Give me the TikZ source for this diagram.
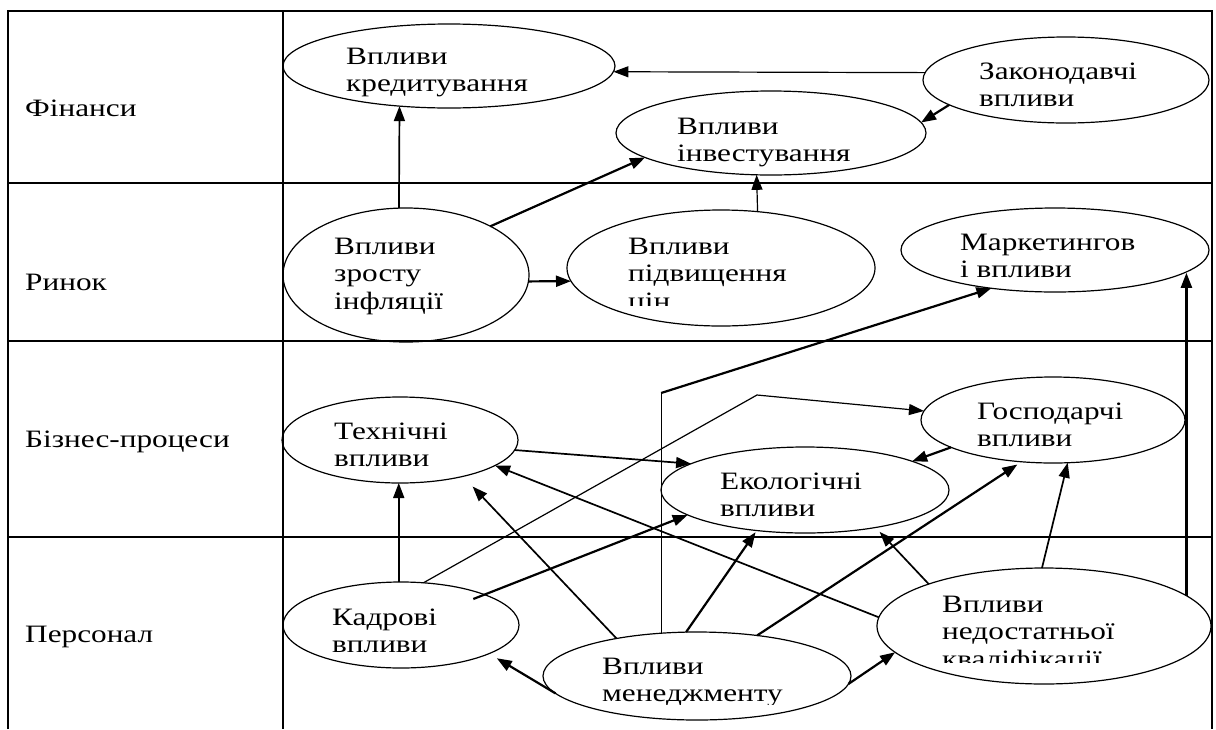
\documentclass[tikz,border=0pt]{standalone}
\usepackage{fontspec}
\setmainfont{Liberation Serif}[FakeStretch=1.25]
\usetikzlibrary{shapes.geometric,arrows.meta}
\begin{document}
\begin{tikzpicture}[x=1pt,y=1pt,
  frame/.style={line width=1.2pt},
  ell/.style={draw, ellipse, line width=1.2pt, inner sep=0pt, outer sep=0pt},
  txt/.style={font=\fontsize{25}{27.5}\selectfont, align=left, inner sep=0pt, anchor=base west},
  lbl/.style={font=\fontsize{25}{27.5}\selectfont, inner sep=0pt, anchor=base west},
  tip/.style={-{Triangle[length=15pt,width=11pt]}},
  thick arr/.style={tip, line width=2.2pt},
  mid arr/.style={tip, line width=1.7pt},
  thin arr/.style={tip, line width=1.2pt}]
\useasboundingbox (0,0) rectangle (1216,-729);
% table frame
\draw[frame] (8,-729) -- (8,-11) -- (1212,-11) -- (1212,-729);
\draw[frame] (283,-11) -- (283,-729);
\draw[frame] (8,-183) -- (1212,-183);
\draw[frame] (8,-341) -- (1212,-341);
\draw[frame] (8,-537) -- (1212,-537);
% row labels
\node[lbl] (rFin) at (25,-116) {Фінанси};
\node[lbl] (rRyn) at (25,-290) {Ринок};
\node[lbl] (rBiz) at (25,-447) {Бізнес-процеси};
\node[lbl] (rPer) at (25,-642) {Персонал};
% ellipses
\node[ell, minimum width=332, minimum height=84] (kred) at (449,-66) {};
\node[ell, minimum width=286, minimum height=86] (zakon) at (1066,-80) {};
\node[ell, minimum width=310, minimum height=84] (invest) at (771,-133) {};
\node[ell, minimum width=246, minimum height=134] (infl) at (406,-275) {};
\node[ell, minimum width=308, minimum height=116] (pidv) at (721,-268) {};
\node[ell, minimum width=308, minimum height=84] (market) at (1055,-250) {};
\node[ell, minimum width=264, minimum height=86] (gosp) at (1053,-420) {};
\node[ell, minimum width=288, minimum height=86] (ekol) at (805,-490) {};
\node[ell, minimum width=236, minimum height=86] (tekh) at (400,-440) {};
\node[ell, minimum width=236, minimum height=86] (kadr) at (401,-625) {};
\node[ell, minimum width=308, minimum height=88] (men) at (697,-676) {};
\node[ell, minimum width=334, minimum height=116] (ned) at (1044,-626) {};
% texts (anchored at the baseline of the last line)
\begin{scope}
\clip (300,-20) rectangle (620,-97);
\node[txt] (tKred) at (346,-91.5) {Впливи\\кредитування};
\end{scope}
\node[txt] (tZakon) at (979,-106.5) {Законодавчі\\впливи};
\begin{scope}
\clip (600,-95) rectangle (930,-166);
\node[txt] (tInvest) at (677,-161.5) {Впливи\\інвестування};
\end{scope}
\node[txt] (tInfl) at (334,-309) {Впливи\\зросту\\інфляції};
\begin{scope}
\clip (600,-215) rectangle (880,-305);
\node[txt] (tPidv) at (628,-309) {Впливи\\підвищення\\цін};
\end{scope}
\node[txt] (tMarket) at (960,-277.5) {Маркетингов\\і впливи};
\node[txt] (tGosp) at (977,-446.5) {Господарчі\\впливи};
\node[txt] (tEkol) at (720,-516.5) {Екологічні\\впливи};
\node[txt] (tTekh) at (334,-466.5) {Технічні\\впливи};
\node[txt] (tKadr) at (332,-652.5) {Кадрові\\впливи};
\begin{scope}
\clip (560,-640) rectangle (860,-704);
\node[txt] (tMen) at (602,-701.5) {Впливи\\менеджменту};
\end{scope}
\begin{scope}
\clip (900,-580) rectangle (1200,-662);
\node[txt] (tNed) at (942,-667) {Впливи\\недостатньої\\кваліфікації};
\end{scope}
% bend points
\coordinate (bendM) at (661,-393);
\coordinate (bendK) at (757,-395);
% connectors
\draw[thin arr] (zakon.177) -- (kred.-2);
\draw[thick arr] (zakon.192) -- (invest.4);
\draw[mid arr] (infl.96) -- (kred.219);
\draw[thick arr] (infl.30) -- (invest.191);
\draw[thick arr] (infl.-3) -- (pidv.185);
\draw[thin arr] (pidv.57) -- (invest.251);
\draw[line width=1.2pt] (men.130) -- (men.130 |- bendM);
\draw[thick arr] (men.130 |- bendM) -- (market.211);
\draw[thick arr] (ned.12) -- (ned.12 |- market.-10);
\draw[mid arr] (tekh.-5) -- (ekol.167);
\draw[thin arr] (kadr.62) -- (bendK) -- (gosp.176);
\draw[thick arr] (gosp.195) -- (ekol.15);
\draw[mid arr] (kadr.93) -- (kadr.93 |- tekh.south);
\draw[thick arr, shorten <=-12pt] (kadr.20) -- (ekol.192);
\draw[thick arr, shorten >=9pt] (men.187) -- (kadr.-18);
\draw[mid arr, shorten >=14pt] (men.155) -- (tekh.-30);
\draw[thick arr, shorten >=2pt] (men.104) -- (ekol.220);
\draw[thick arr, shorten >=5pt] (men.34) -- (gosp.233);
\draw[thick arr] (men.-3) -- (ned.190);
\draw[mid arr] (ned.177) -- (tekh.-15);
\draw[mid arr, shorten >=6pt] (ned.160) -- (ekol.-28);
\draw[mid arr] (ned.92) -- (gosp.-71);
\end{tikzpicture}
\end{document}
